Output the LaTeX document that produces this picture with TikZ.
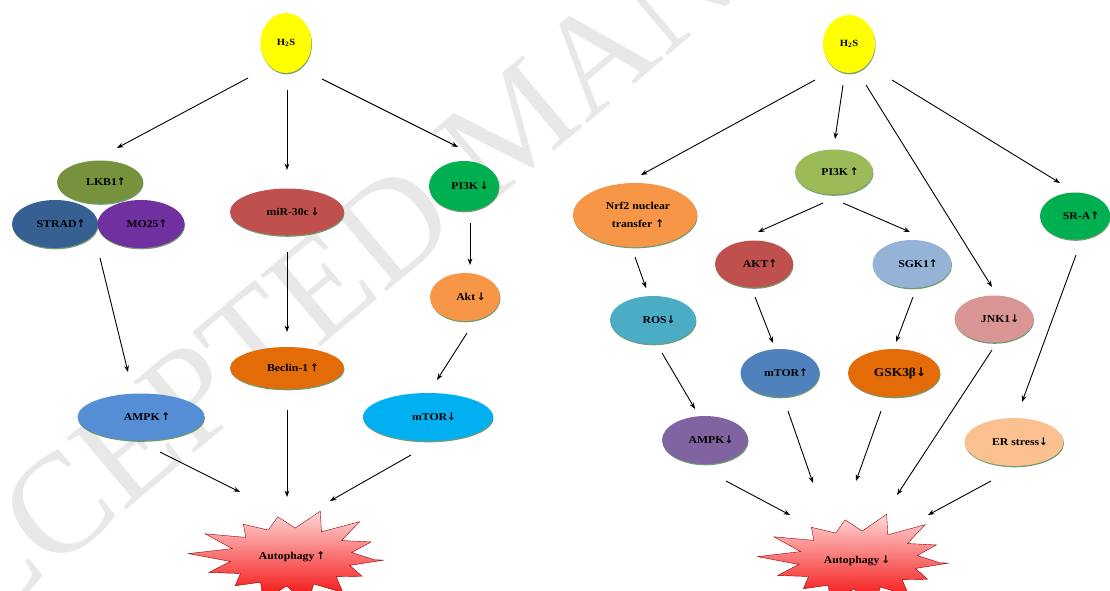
\documentclass[tikz,border=0pt]{standalone}
\usepackage{fontspec}
\setmainfont{Liberation Serif}[FakeStretch=1.12]
\newfontfamily\wmfont{Liberation Serif}
\newfontfamily\arrfont{DejaVu Sans}
\newcommand{\myup}{{\arrfont\bfseries ↑}}
\newcommand{\mydn}{{\arrfont\bfseries ↓}}
\usetikzlibrary{arrows.meta,calc,shadows,shapes.geometric}
\definecolor{cyel}{HTML}{FFFF00}
\definecolor{colive}{HTML}{76923C}
\definecolor{cstrad}{HTML}{366092}
\definecolor{cpurple}{HTML}{7030A0}
\definecolor{cred}{HTML}{C0504D}
\definecolor{cgreen}{HTML}{00B050}
\definecolor{corange}{HTML}{F79646}
\definecolor{cdkorange}{HTML}{E36C09}
\definecolor{cblue}{HTML}{558ED5}
\definecolor{ccyan}{HTML}{00B0F0}
\definecolor{clgreen}{HTML}{9BBB59}
\definecolor{clblue}{HTML}{95B3D7}
\definecolor{cteal}{HTML}{4BACC6}
\definecolor{cpink}{HTML}{D99694}
\definecolor{cmblue}{HTML}{4F81BD}
\definecolor{clpurple}{HTML}{8064A2}
\definecolor{cpeach}{HTML}{FAC090}
\begin{document}
\begin{tikzpicture}[x=1pt,y=-1pt,
  ell/.style={ellipse, inner sep=0pt, font=\fontsize{10.5}{12}\selectfont\bfseries,
    drop shadow={shadow xshift=0.5pt,shadow yshift=-1.3pt,fill=black!70!green,opacity=0.55}},
  sh/.style={execute at begin node=\hspace*{12pt}},
  arr/.style={-{Stealth[length=6.5pt,width=4.8pt]}, line width=0.9pt},
  lbl/.style={font=\fontsize{10.5}{12}\selectfont\bfseries},
  burst/.style={top color=red!15, bottom color=red!95!black, draw=red!60!black, line width=0.4pt},
  declare function={rr(\t)=ifthenelse(mod(\t,2)==0, 1+0.12*sin(\t*137), 0.66);}
]
\useasboundingbox (0,0) rectangle (1110,590);
\clip (0,0) rectangle (1110,590);
\fill[white] (0,0) rectangle (1110,590);
% watermark
\node[rotate=40, text=black!9, font=\wmfont\fontsize{142}{142}\selectfont, anchor=base west, inner sep=0pt] (wm) at (-100,700) {ACCEPTED MANUSCRIPT};

% ---------------- left panel ----------------
\node[ell, fill=cyel, minimum width=51pt, minimum height=60pt, font=\fontsize{9.5}{11}\selectfont\bfseries] (h2sL) at (286,43) {H\textsubscript{2}S};
\node[ell, sh, fill=colive, minimum width=86pt, minimum height=43pt] (lkb1) at (100,182) {LKB1\myup};
\node[ell, sh, fill=cstrad, minimum width=86pt, minimum height=48pt] (strad) at (55,224) {STRAD\myup};
\node[ell, sh, fill=cpurple, minimum width=87pt, minimum height=48pt] (mo25) at (141,224) {MO25\myup};
\node[ell, sh, fill=cred, minimum width=114pt, minimum height=47pt] (mir) at (287,212) {miR-30c\,\mydn};
\node[ell, sh, fill=cgreen, minimum width=70pt, minimum height=50pt] (pi3kL) at (464,186) {PI3K\,\mydn};
\node[ell, sh, fill=corange, minimum width=70pt, minimum height=48pt] (aktL) at (465,297) {Akt\,\mydn};
\node[ell, sh, fill=cdkorange, minimum width=114pt, minimum height=42pt] (beclin) at (287,368) {Beclin-1\,\myup};
\node[ell, sh, fill=cblue, minimum width=127pt, minimum height=47pt] (ampkL) at (141,417) {AMPK\,\myup};
\node[ell, sh, fill=ccyan, minimum width=130pt, minimum height=48pt] (mtorL) at (428,417) {mTOR\mydn};
\shade[burst] plot[variable=\t, samples at={0,1,...,28}] ({291+93*rr(\t)*cos(\t*360/28+4)}, {557+44*rr(\t)*sin(\t*360/28+4)}) -- cycle;
\node[lbl] (autoL) at (292,557) {Autophagy\,\myup};

\draw[arr] ($(h2sL)+(-38,35)$) -- ($(lkb1)+(17,-34)$);
\draw[arr] ($(h2sL)+(1,47)$) -- ($(mir)+(0,-42)$);
\draw[arr] ($(h2sL)+(36,36)$) -- ($(pi3kL)+(-6,-39)$);
\draw[arr] ($(mir)+(0,40)$) -- ($(beclin)+(0,-36)$);
\draw[arr] ($(pi3kL)+(6,37)$) -- ($(aktL)+(5,-32)$);
\draw[arr] ($(aktL)+(2,36)$) -- ($(mtorL)+(9,-37)$);
\draw[arr] ($(strad)+(45,34)$) -- ($(ampkL)+(-13,-45)$);
\draw[arr] ($(ampkL)+(19,35)$) -- ($(autoL)+(-52,-65)$);
\draw[arr] ($(beclin)+(0,42)$) -- ($(autoL)+(-5,-60)$);
\draw[arr] ($(mtorL)+(-17,38)$) -- ($(autoL)+(38,-56)$);

% ---------------- right panel ----------------
\node[ell, fill=cyel, minimum width=52pt, minimum height=58pt, font=\fontsize{9.5}{11}\selectfont\bfseries] (h2sR) at (849,44) {H\textsubscript{2}S};
\node[ell, fill=corange, minimum width=124pt, minimum height=64pt, align=center, font=\fontsize{10.5}{18}\selectfont\bfseries] (nrf2) at (635,215) {\hspace*{6pt}Nrf2 nuclear\\\hspace*{6pt}transfer \myup};
\node[ell, sh, fill=clgreen, minimum width=78pt, minimum height=45pt] (pi3kR) at (834,172) {PI3K\,\myup};
\node[ell, sh, fill=cred, minimum width=78pt, minimum height=47pt] (aktR) at (754,264) {AKT\myup};
\node[ell, sh, fill=clblue, minimum width=79pt, minimum height=48pt] (sgk1) at (912,264) {SGK1\myup};
\node[ell, sh, fill=cgreen, minimum width=70pt, minimum height=47pt] (sra) at (1075,216) {SR-A\myup};
\node[ell, sh, fill=cteal, minimum width=86pt, minimum height=48pt] (ros) at (653,320) {ROS\mydn};
\node[ell, sh, fill=cpink, minimum width=79pt, minimum height=47pt] (jnk1) at (994,319) {JNK1\mydn};
\node[ell, sh, fill=cmblue, minimum width=78pt, minimum height=48pt] (mtorR) at (780,373) {mTOR\myup};
\node[ell, sh, fill=cdkorange, minimum width=92pt, minimum height=48pt, font=\fontsize{12}{14}\selectfont\bfseries] (gsk) at (894,373) {GSK3β\mydn};
\node[ell, sh, fill=clpurple, minimum width=86pt, minimum height=48pt] (ampkR) at (705,440) {AMPK\mydn};
\node[ell, sh, fill=cpeach, minimum width=99pt, minimum height=48pt] (er) at (1014,442) {ER stress\mydn};
\shade[burst] plot[variable=\t, samples at={0,1,...,28}] ({858+91*rr(\t)*cos(\t*360/28+4)}, {560+44*rr(\t)*sin(\t*360/28+4)}) -- cycle;
\node[lbl] (autoR) at (857,561) {Autophagy\,\mydn};

\draw[arr] ($(h2sR)+(-34,36)$) -- ($(nrf2)+(6,-40)$);
\draw[arr] ($(h2sR)+(-6,41)$) -- ($(pi3kR)+(1,-33)$);
\draw[arr] ($(h2sR)+(17,41)$) -- ($(jnk1)+(-2,-32)$);
\draw[arr] ($(h2sR)+(43,36)$) -- ($(sra)+(-15,-33)$);
\draw[arr] ($(pi3kR)+(-11,31)$) -- ($(aktR)+(4,-32)$);
\draw[arr] ($(pi3kR)+(9,31)$) -- ($(sgk1)+(-2,-32)$);
\draw[arr] ($(nrf2)+(0,42)$) -- ($(ros)+(-7,-32)$);
\draw[arr] ($(aktR)+(1,33)$) -- ($(mtorR)+(-7,-30)$);
\draw[arr] ($(sgk1)+(1,33)$) -- ($(gsk)+(2,-31)$);
\draw[arr] ($(sra)+(1,39)$) -- ($(er)+(8,-40)$);
\draw[arr] ($(ros)+(9,33)$) -- ($(ampkR)+(-10,-31)$);
\draw[arr] ($(jnk1)+(-2,31)$) -- ($(autoR)+(40,-66)$);
\draw[arr] ($(ampkR)+(21,41)$) -- ($(autoR)+(-67,-46)$);
\draw[arr] ($(mtorR)+(8,38)$) -- ($(autoR)+(-44,-78)$);
\draw[arr] ($(gsk)+(-13,38)$) -- ($(autoR)+(-1,-80)$);
\draw[arr] ($(er)+(-23,39)$) -- ($(autoR)+(71,-46)$);
\end{tikzpicture}
\end{document}
